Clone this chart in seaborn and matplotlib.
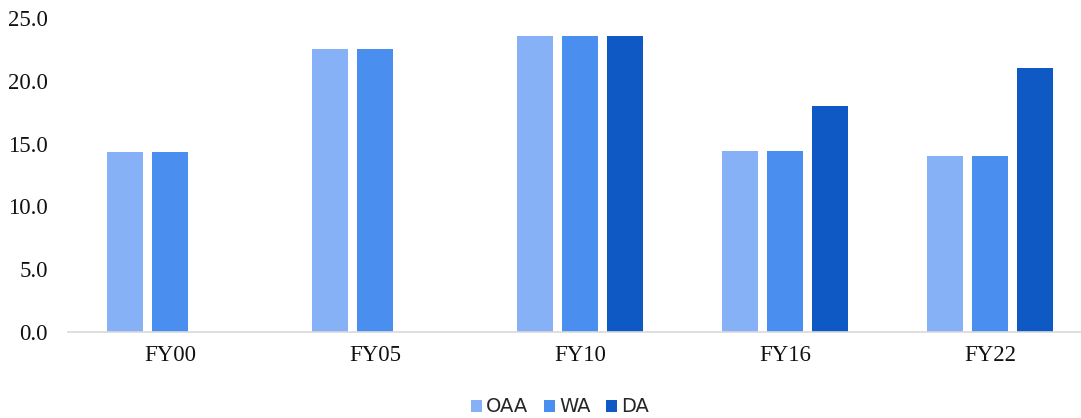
import numpy as np
import pandas as pd
import seaborn as sns
import matplotlib
matplotlib.use("Agg")
import matplotlib.pyplot as plt
from matplotlib.patches import Patch

# Chart data
years = ["FY00", "FY05", "FY10", "FY16", "FY22"]
series_names = ["OAA", "WA", "DA"]
oaa = [14.3, 22.5, 23.6, 14.4, 14.0]
wa = [14.3, 22.5, 23.6, 14.4, 14.0]
da = [np.nan, np.nan, 23.6, 18.0, 21.0]
y_ticks = [0, 5, 10, 15, 20, 25]

colors = ["#86B1F6", "#4A8EF0", "#0F59C4"]

df = pd.DataFrame({
    "year": years * 3,
    "series": [s for s in series_names for _ in years],
    "value": oaa + wa + da,
})

sns.set_theme(style="white")
plt.rcParams["font.family"] = ["DejaVu Sans"]

fig = plt.figure(figsize=(10.81, 4.18), dpi=100)
W, H = 1081, 418
ax = fig.add_axes([67.5 / W, (H - 332) / H, (W - 67.5) / W, (332 - 18) / H])

sns.barplot(
    data=df, x="year", y="value", hue="series",
    order=years, hue_order=series_names, palette=colors,
    width=0.663, gap=0.205, errorbar=None, ax=ax,
    saturation=1, linewidth=0,
)

ax.set_xlim(-0.5, -0.5 + (W - 67.5) / 205)
ax.set_ylim(0, 25)
ax.set_yticks(y_ticks)
ax.set_yticklabels([f"{v:.1f}" for v in y_ticks])
ax.set_xlabel("")
ax.set_ylabel("")

serif = "Liberation Serif"
for lab in ax.get_yticklabels() + ax.get_xticklabels():
    lab.set_fontfamily(serif)
    lab.set_fontsize(16.5)
    lab.set_color("#111111")
ax.tick_params(axis="y", length=0, pad=14)
ax.tick_params(axis="x", length=0, pad=9.5)

for side in ["top", "right", "left"]:
    ax.spines[side].set_visible(False)
ax.spines["bottom"].set_color("#d9d9d9")
ax.spines["bottom"].set_linewidth(1.2)
ax.grid(False)

if ax.get_legend() is not None:
    ax.get_legend().remove()
handles = [Patch(facecolor=c, edgecolor="none") for c in colors]
fig.legend(
    handles, series_names, loc="center", bbox_to_anchor=(560 / W, 1 - 407 / H),
    ncol=3, frameon=False, fontsize=14, handlelength=0.57, handleheight=0.57,
    handletextpad=0.2, columnspacing=0.8, borderpad=0, borderaxespad=0,
)

fig.savefig("out.png", dpi=100)
